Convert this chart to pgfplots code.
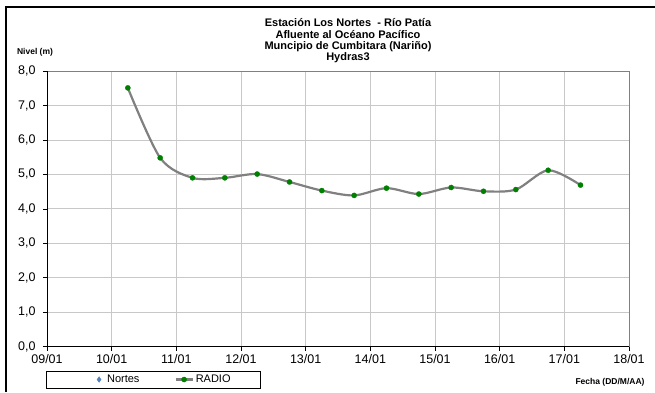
\documentclass[border=0pt]{standalone}
\usepackage{pgfplots}
\pgfplotsset{compat=1.18}
\usepackage{fontspec}
\setmainfont{Liberation Sans}
\definecolor{lineg}{RGB}{128,128,128}
\definecolor{mkg}{RGB}{0,128,0}
\definecolor{gridc}{RGB}{200,200,200}
\definecolor{nortes}{RGB}{79,129,189}
\begin{document}
\begin{tikzpicture}[x=1pt,y=1pt]
\useasboundingbox (0,0) rectangle (655,392);
\draw[line width=2.2pt] (6,0) -- (6,385) -- (655,385);
\node[align=center,font=\fontsize{11}{11.4}\selectfont\bfseries] at (348,351)
 {Estación Los Nortes \ - Río Patía\\Afluente al Océano Pacífico\\Muncipio de Cumbitara (Nariño)\\Hydras3};
\node[font=\fontsize{8.5}{9}\selectfont\bfseries] at (35,340) {Nivel (m)};
\node[font=\fontsize{8.5}{9}\selectfont\bfseries] at (610,10) {Fecha (DD/M/AA)};
\begin{axis}[
  at={(47pt,45.3pt)}, anchor=south west, scale only axis,
  width=582pt, height=275.7pt,
  xmin=0, xmax=9, ymin=0, ymax=8,
  xtick={0,...,9},
  xticklabels={09/01,10/01,11/01,12/01,13/01,14/01,15/01,16/01,17/01,18/01},
  ytick={0,1,...,8},
  /pgf/number format/assume math mode=true,
  yticklabel style={xshift=-4pt,/pgf/number format/.cd, fixed, fixed zerofill, precision=1, use comma},
  ticklabel style={font=\fontsize{12.5}{13}\selectfont},
  grid=major, major grid style={gridc, line width=0.8pt},
  axis line style={lineg, line width=0.8pt},
  tick align=outside, major tick length=4pt,
  tick style={black, line width=0.6pt},
  xtick pos=bottom, ytick pos=left,
  legend columns=2,
  legend style={at={(-0.002,-0.087)}, anchor=north west, draw=black, line width=0.5pt,
    font=\fontsize{11}{13}\selectfont, inner xsep=28pt, inner ysep=2pt,
    /tikz/every even column/.append style={column sep=33pt}},
]
\addlegendimage{legend image code/.code={
  \path[draw=none,fill=none] (0pt,0pt) -- (31pt,0pt);
  \path[draw=nortes, fill=nortes, line width=0.4pt] (25pt,2.8pt) -- (27pt,0pt) -- (25pt,-2.8pt) -- (23pt,0pt) -- cycle;}}
\addlegendentry{Nortes}
\addplot[lineg, line width=2.2pt, smooth, tension=0.5, mark=*, mark size=2.6pt,
  mark options={fill=mkg, draw=mkg, line width=0.3pt}] coordinates {
(1.25,7.51) (1.75,5.48) (2.25,4.90) (2.75,4.90) (3.25,5.01) (3.75,4.78)
(4.25,4.53) (4.75,4.39) (5.25,4.60) (5.75,4.43) (6.25,4.62) (6.75,4.51)
(7.25,4.56) (7.75,5.12) (8.25,4.69)};
\addlegendentry{RADIO}
\draw[black, line width=0.9pt] (rel axis cs:0,1) -- (rel axis cs:0,0) -- (rel axis cs:1,0);
\end{axis}
\end{tikzpicture}
\end{document}
